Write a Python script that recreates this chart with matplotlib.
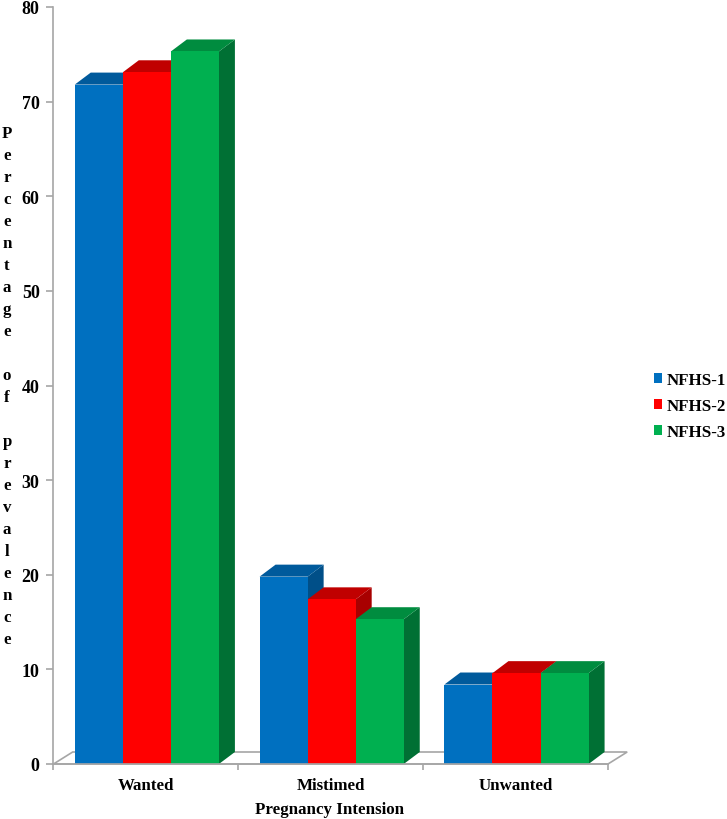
#!/usr/bin/env python3
"""Pseudo-3D clustered bars of pregnancy intension by NFHS round."""

import matplotlib

matplotlib.use("Agg")

import matplotlib.pyplot as plt
from matplotlib.patches import Patch, Polygon

categories = ["Wanted", "Mistimed", "Unwanted"]
series_names = ["NFHS-1", "NFHS-2", "NFHS-3"]
nfhs1 = [71.8, 19.8, 8.4]
nfhs2 = [73.1, 17.4, 9.6]
nfhs3 = [75.3, 15.3, 9.6]
y_ticks = [0, 10, 20, 30, 40, 50, 60, 70, 80]
y_label = "Percentage of prevalence"

WIDTH, HEIGHT = 727, 820
AX_L, AX_R, AX_B, AX_T = 53.5, 608, 765, 8
BAR_W = 0.26
DX, DY = 16 / 185, 12 / 9.46

front = ["#0070C0", "#FF0000", "#00B050"]
top = ["#005A9C", "#C00000", "#008C3F"]
side = ["#004F88", "#A80000", "#007034"]
GRAY = "#A6A6A6"
FONT = 12.2

plt.rcParams["font.family"] = ["Liberation Serif", "DejaVu Serif"]
plt.rcParams["font.weight"] = "bold"

fig = plt.figure(figsize=(WIDTH / 100, HEIGHT / 100), dpi=100)
ax = fig.add_axes([
    AX_L / WIDTH,
    (HEIGHT - AX_B) / HEIGHT,
    (AX_R - AX_L) / WIDTH,
    (AX_B - AX_T) / HEIGHT,
])
ax.set_xlim(0, 3)
ax.set_ylim(0, 80)

# floor behind the bars
ax.add_patch(Polygon(
    [(0, 0), (DX * 1.2, DY), (3 + DX * 1.2, DY), (3, 0)],
    closed=True, facecolor="white", edgecolor=GRAY, linewidth=1.2, zorder=1, clip_on=False,
))

for i, values in enumerate([nfhs1, nfhs2, nfhs3]):
    for c, val in enumerate(values):
        x0 = c + 0.5 - 1.5 * BAR_W + i * BAR_W + 0.005
        x1 = x0 + BAR_W
        z = 2 + c * 3 + i * 3
        ax.add_patch(Polygon(
            [(x1, 0), (x1 + DX, DY), (x1 + DX, val + DY), (x1, val)],
            closed=True, facecolor=side[i], edgecolor="none", zorder=z, clip_on=False,
        ))
        ax.add_patch(Polygon(
            [(x0, val), (x0 + DX, val + DY), (x1 + DX, val + DY), (x1, val)],
            closed=True, facecolor=top[i], edgecolor="none", zorder=z, clip_on=False,
        ))
        ax.bar(x0, val, width=BAR_W, align="edge", color=front[i], zorder=z + 1)

for name in ["top", "right"]:
    ax.spines[name].set_visible(False)
for name in ["left", "bottom"]:
    ax.spines[name].set_color(GRAY)
    ax.spines[name].set_linewidth(1.2)
    ax.spines[name].set_zorder(40)

ax.set_yticks(y_ticks)
ax.set_xticks([0, 1, 2, 3])
ax.set_xticklabels([])
ax.set_xticks([0.5, 1.5, 2.5], minor=True)
ax.set_xticklabels(categories, minor=True, fontsize=FONT, fontweight="bold")
ax.tick_params(axis="x", which="major", length=4, color=GRAY, width=1.2)
ax.tick_params(axis="x", which="minor", length=0, pad=9.5)
ax.tick_params(axis="y", length=5, color=GRAY, width=1.2, labelsize=13, pad=5)

ax.set_xlabel("Pregnancy Intension", fontsize=FONT, fontweight="bold")
ax.xaxis.set_label_coords((330 - AX_L) / (AX_R - AX_L), -(810 - AX_B) / (AX_B - AX_T), transform=ax.transAxes)
ax.xaxis.label.set_va("center")

ax.set_ylabel("\n".join(y_label), rotation=0, fontsize=FONT, fontweight="bold",
              linespacing=1.5, ha="center", va="center")
ax.yaxis.set_label_coords(-(AX_L - 7) / (AX_R - AX_L), (AX_B - 387) / (AX_B - AX_T), transform=ax.transAxes)

handles = [Patch(facecolor=front[i], label=series_names[i]) for i in range(3)]
fig.legend(
    handles=handles, loc="center left", bbox_to_anchor=(654 / WIDTH, 1 - 407 / HEIGHT),
    frameon=False, fontsize=FONT, handlelength=0.5, handleheight=0.5,
    handletextpad=0.27, labelspacing=0.6, borderpad=0, borderaxespad=0,
)

fig.savefig("out.png", dpi=100)
plt.close(fig)
